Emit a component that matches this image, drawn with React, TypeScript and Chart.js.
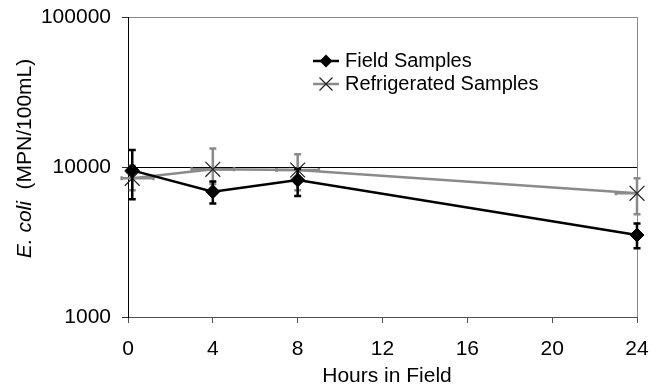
import React, { useEffect, useRef } from 'react';
import { Chart, registerables } from 'chart.js';

Chart.register(...registerables);

// ---- data ----
const hours = [0.2, 4, 8, 24];
const fieldValues = [9500, 6850, 8200, 3520];
const fieldLow = [6100, 5700, 6400, 2870];
const fieldHigh = [13000, 8000, 9700, 4200];
const refrigValues = [8400, 9650, 9550, 6680];
const refrigLow = [7000, 7700, 7000, 4850];
const refrigHigh = [10200, 13300, 12150, 8400];
const refrigHoursLow = [-0.3, 3, 7, 23];
const refrigHoursHigh = [1.2, 5, 9, 24];
const xTicks = [0, 4, 8, 12, 16, 20, 24];
const yTicks = [1000, 10000, 100000];
const seriesNames = ['Field Samples', 'Refrigerated Samples'];
const xTitle = 'Hours in Field';
const yTitleItalic = 'E. coli';
const yTitleRest = '  (MPN/100mL)';

const FONT = '"Liberation Sans", Arial, sans-serif';
const BLACK = '#000000';
const GRAY = '#8a8a8a';
const MARK = '#222222';

function drawDiamond(ctx: CanvasRenderingContext2D, x: number, y: number, r: number) {
  ctx.beginPath();
  ctx.moveTo(x - r, y);
  ctx.lineTo(x, y - r);
  ctx.lineTo(x + r, y);
  ctx.lineTo(x, y + r);
  ctx.closePath();
  ctx.fillStyle = BLACK;
  ctx.fill();
}

function drawCross(ctx: CanvasRenderingContext2D, x: number, y: number, h: number) {
  ctx.beginPath();
  ctx.moveTo(x - h, y - h);
  ctx.lineTo(x + h, y + h);
  ctx.moveTo(x - h, y + h);
  ctx.lineTo(x + h, y - h);
  ctx.strokeStyle = MARK;
  ctx.lineWidth = 1.2;
  ctx.stroke();
}

function vBar(ctx: CanvasRenderingContext2D, x: number, y1: number, y2: number, cap: number) {
  ctx.beginPath();
  ctx.moveTo(x, y1);
  ctx.lineTo(x, y2);
  ctx.moveTo(x - cap, y1);
  ctx.lineTo(x + cap, y1);
  ctx.moveTo(x - cap, y2);
  ctx.lineTo(x + cap, y2);
  ctx.stroke();
}

function hBar(ctx: CanvasRenderingContext2D, y: number, x1: number, x2: number, cap: number) {
  ctx.beginPath();
  ctx.moveTo(x1, y);
  ctx.lineTo(x2, y);
  ctx.moveTo(x1, y - cap);
  ctx.lineTo(x1, y + cap);
  ctx.moveTo(x2, y - cap);
  ctx.lineTo(x2, y + cap);
  ctx.stroke();
}

const errorBarPlugin = {
  id: 'errorBars',
  beforeDatasetsDraw(chart: any) {
    const ctx = chart.ctx as CanvasRenderingContext2D;
    const xs = chart.scales.x;
    const ys = chart.scales.y;
    ctx.save();
    ctx.strokeStyle = GRAY;
    ctx.lineWidth = 2.5;
    hours.forEach((h, i) => {
      const px = xs.getPixelForValue(h);
      const py = ys.getPixelForValue(refrigValues[i]);
      vBar(ctx, px, ys.getPixelForValue(refrigHigh[i]), ys.getPixelForValue(refrigLow[i]), 3.5);
      hBar(ctx, py, xs.getPixelForValue(refrigHoursLow[i]), xs.getPixelForValue(refrigHoursHigh[i]), 2);
    });
    ctx.restore();
  },
  afterDatasetsDraw(chart: any) {
    const ctx = chart.ctx as CanvasRenderingContext2D;
    const xs = chart.scales.x;
    const ys = chart.scales.y;
    ctx.save();
    ctx.strokeStyle = BLACK;
    ctx.lineWidth = 2.5;
    hours.forEach((h, i) => {
      const px = xs.getPixelForValue(h);
      vBar(ctx, px, ys.getPixelForValue(fieldHigh[i]), ys.getPixelForValue(fieldLow[i]), 3.5);
    });
    ctx.restore();
  },
  afterDraw(chart: any) {
    const ctx = chart.ctx as CanvasRenderingContext2D;
    ctx.save();
    // legend
    const lx1 = 313, lx2 = 339, tx = 345;
    const ly = [61, 84];
    ctx.lineWidth = 2.5;
    ctx.strokeStyle = BLACK;
    ctx.beginPath();
    ctx.moveTo(lx1, ly[0]);
    ctx.lineTo(lx2, ly[0]);
    ctx.stroke();
    drawDiamond(ctx, (lx1 + lx2) / 2, ly[0], 6.5);
    ctx.lineWidth = 2.5;
    ctx.strokeStyle = GRAY;
    ctx.beginPath();
    ctx.moveTo(lx1, ly[1]);
    ctx.lineTo(lx2, ly[1]);
    ctx.stroke();
    drawCross(ctx, (lx1 + lx2) / 2, ly[1], 6.5);
    ctx.fillStyle = BLACK;
    ctx.font = `20px ${FONT}`;
    ctx.textAlign = 'left';
    ctx.textBaseline = 'middle';
    ctx.fillText(seriesNames[0], tx, ly[0]);
    ctx.fillText(seriesNames[1], tx, ly[1]);

    // x title
    ctx.font = `21px ${FONT}`;
    ctx.textAlign = 'center';
    ctx.textBaseline = 'alphabetic';
    ctx.fillText(xTitle, 387, 381.5);

    // y title (rotated, mixed italic)
    ctx.translate(31, 158.5);
    ctx.rotate(-Math.PI / 2);
    ctx.font = `italic 21px ${FONT}`;
    const w1 = ctx.measureText(yTitleItalic).width;
    ctx.font = `21px ${FONT}`;
    const w2 = ctx.measureText(yTitleRest).width;
    const start = -(w1 + w2) / 2;
    ctx.textAlign = 'left';
    ctx.font = `italic 21px ${FONT}`;
    ctx.fillText(yTitleItalic, start, 0);
    ctx.font = `21px ${FONT}`;
    ctx.fillText(yTitleRest, start + w1, 0);
    ctx.restore();
  },
};

export default function App() {
  const ref = useRef<HTMLCanvasElement | null>(null);
  useEffect(() => {
    if (!ref.current) return;
    const chart = new Chart(ref.current, {
      type: 'line',
      data: {
        datasets: [
          {
            label: seriesNames[0],
            data: hours.map((h, i) => ({ x: h, y: fieldValues[i] })),
            borderColor: BLACK,
            backgroundColor: BLACK,
            borderWidth: 2.5,
            pointStyle: 'rectRot',
            pointRadius: 7,
            pointBorderWidth: 1,
            pointBackgroundColor: BLACK,
            pointBorderColor: BLACK,
            tension: 0,
            clip: false as any,
          },
          {
            label: seriesNames[1],
            data: hours.map((h, i) => ({ x: h, y: refrigValues[i] })),
            borderColor: GRAY,
            backgroundColor: GRAY,
            borderWidth: 2.5,
            pointStyle: 'crossRot',
            pointRadius: 10.5,
            pointBorderWidth: 1.2,
            pointBorderColor: MARK,
            pointBackgroundColor: MARK,
            tension: 0,
            clip: false as any,
          },
        ],
      },
      options: {
        responsive: false,
        animation: false,
        devicePixelRatio: 1,
        events: [],
        layout: { padding: { left: 0, top: 17, right: 14, bottom: 0 } },
        plugins: {
          legend: { display: false },
          tooltip: { enabled: false },
          title: { display: false },
        },
        scales: {
          x: {
            type: 'linear',
            min: 0,
            max: 24,
            afterBuildTicks: (scale: any) => {
              scale.ticks = xTicks.map((v) => ({ value: v }));
            },
            afterFit: (scale: any) => {
              scale.height = 72;
              scale.paddingLeft = 0;
              scale.paddingRight = 0;
            },
            ticks: {
              color: BLACK,
              font: { family: FONT, size: 21 },
              padding: 14,
              maxRotation: 0,
              autoSkip: false,
              callback: (v: any) => String(v),
            },
            grid: {
              drawOnChartArea: true,
              drawTicks: true,
              tickLength: 6,
              tickColor: '#505050',
              color: (c: any) => (c.tick && c.tick.value === 24 ? GRAY : 'rgba(0,0,0,0)'),
              lineWidth: 1,
            },
            border: { display: true, color: '#505050', width: 1 },
          },
          y: {
            type: 'logarithmic',
            min: 1000,
            max: 100000,
            afterBuildTicks: (scale: any) => {
              scale.ticks = yTicks.map((v) => ({ value: v }));
            },
            afterFit: (scale: any) => {
              scale.width = 128;
              scale.paddingTop = 0;
              scale.paddingBottom = 0;
            },
            ticks: {
              color: BLACK,
              font: { family: FONT, size: 21 },
              padding: 11,
              autoSkip: false,
              callback: (v: any) => String(v),
            },
            grid: {
              drawOnChartArea: true,
              drawTicks: true,
              tickLength: 6,
              tickColor: '#333333',
              color: (c: any) => {
                const v = c.tick && c.tick.value;
                if (v === 100000) return GRAY;
                if (v === 10000) return BLACK;
                return 'rgba(0,0,0,0)';
              },
              lineWidth: 1,
            },
            border: { display: true, color: BLACK, width: 1 },
          },
        },
      },
      plugins: [errorBarPlugin],
    } as any);
    return () => chart.destroy();
  }, []);
  return (
    <div style={{ position: 'absolute', left: 0, top: 0, width: 651, height: 389, background: '#fff' }}>
      <canvas ref={ref} width={651} height={389} style={{ display: 'block' }} />
    </div>
  );
}
